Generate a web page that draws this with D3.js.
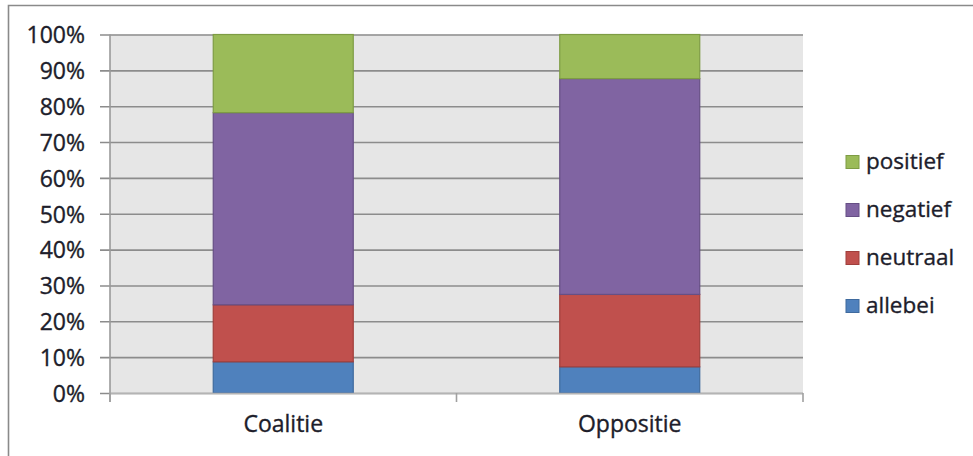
<!DOCTYPE html>
<html>
<head>
<meta charset="utf-8">
<script src="https://cdn.jsdelivr.net/npm/d3@7"></script>
<style>
  html, body { margin: 0; padding: 0; background: #fff; }
  svg { display: block; }
  text { font-family: "Open Sans", "DejaVu Sans", sans-serif; fill: #1d1d2b; stroke: #1d1d2b; stroke-width: 0.35px; }
</style>
</head>
<body>
<svg id="chart" width="973" height="456"></svg>
<script>
// Share of statements per kind, by group (fractions of 1)
const categories = ["Coalitie", "Oppositie"];
const seriesNames = ["allebei", "neutraal", "negatief", "positief"];
const allebei  = [0.087, 0.073];
const neutraal = [0.159, 0.202];
const negatief = [0.536, 0.602];
const positief = [0.218, 0.123];
const yTicks = [0, 0.1, 0.2, 0.3, 0.4, 0.5, 0.6, 0.7, 0.8, 0.9, 1.0];

const colors = {
  allebei:  { fill: "#4f81bd", stroke: "#3f6a9e" },
  neutraal: { fill: "#c0504d", stroke: "#a03f3c" },
  negatief: { fill: "#8064a2", stroke: "#664f85" },
  positief: { fill: "#9bbb59", stroke: "#7e9c44" }
};

const valuesBySeries = { allebei, neutraal, negatief, positief };
const rows = categories.map((c, i) => {
  const r = { category: c };
  seriesNames.forEach(s => r[s] = valuesBySeries[s][i]);
  return r;
});

const fontSize = "23px";
const svg = d3.select("#chart");

// Outer chart frame
svg.append("path")
  .attr("d", "M8.5,456 L8.5,5.5 L973,5.5")
  .attr("fill", "none")
  .attr("stroke", "#8a8a8a")
  .attr("stroke-width", 1.6);

const plot = { left: 110, right: 803, top: 34.5, bottom: 393 };

const x = d3.scaleBand()
  .domain(categories)
  .range([plot.left, plot.right])
  .paddingInner(0.596)
  .paddingOuter(0.298);

const y = d3.scaleLinear()
  .domain([0, 1])
  .range([plot.bottom, plot.top]);

// Plot background
svg.append("rect")
  .attr("x", plot.left)
  .attr("y", plot.top)
  .attr("width", plot.right - plot.left)
  .attr("height", plot.bottom - plot.top)
  .attr("fill", "#e6e6e6");

// Horizontal gridlines with outward ticks on the left
const yAxis = d3.axisLeft(y)
  .tickValues(yTicks)
  .tickFormat(d3.format(".0%"))
  .tickSize(-(plot.right - plot.left));

const gy = svg.append("g")
  .attr("transform", `translate(${plot.left},0)`)
  .call(yAxis);
gy.select(".domain").remove();
gy.selectAll(".tick line")
  .attr("x1", -10)
  .attr("stroke", "#8c8c8c")
  .attr("stroke-width", 1.6);
gy.selectAll(".tick text")
  .attr("x", -25)
  .attr("dy", "0.36em")
  .style("font-size", fontSize)
  .style("font-family", "'Open Sans', sans-serif")
  .attr("fill", "#1d1d2b");

// Vertical axis line
svg.append("line")
  .attr("x1", plot.left).attr("x2", plot.left)
  .attr("y1", plot.top).attr("y2", plot.bottom + 9)
  .attr("stroke", "#9a9a9a")
  .attr("stroke-width", 1.6);

// Stacked bars
const stack = d3.stack().keys(seriesNames);
const layers = stack(rows);

svg.append("g")
  .selectAll("g")
  .data(layers)
  .join("g")
  .attr("fill", d => colors[d.key].fill)
  .attr("stroke", d => colors[d.key].stroke)
  .attr("stroke-width", 1.2)
  .selectAll("rect")
  .data(d => d)
  .join("rect")
  .attr("x", d => x(d.data.category))
  .attr("width", x.bandwidth())
  .attr("y", d => y(d[1]))
  .attr("height", d => y(d[0]) - y(d[1]));

// Category axis
const xAxis = d3.axisBottom(x).tickSize(0).tickPadding(23);
const gx = svg.append("g")
  .attr("transform", `translate(0,${plot.bottom})`)
  .call(xAxis);
gx.select(".domain")
  .attr("stroke", "#b4b4b4")
  .attr("stroke-width", 1.6)
  .attr("d", `M${plot.left},0.5H${plot.right}`);
gx.selectAll(".tick text")
  .style("font-size", fontSize)
  .style("font-family", "'Open Sans', sans-serif")
  .attr("fill", "#1d1d2b");

// Category separators on the bottom axis
const separators = [plot.left, (plot.left + plot.right) / 2, plot.right];
svg.append("g")
  .selectAll("line")
  .data(separators)
  .join("line")
  .attr("x1", d => d).attr("x2", d => d)
  .attr("y1", plot.bottom).attr("y2", plot.bottom + 9)
  .attr("stroke", "#a0a0a0")
  .attr("stroke-width", 1.6);

// Legend, top entry is the top segment of the stack
const legendOrder = seriesNames.slice().reverse();
const legend = svg.append("g")
  .selectAll("g")
  .data(legendOrder)
  .join("g")
  .attr("transform", (d, i) => `translate(846,${162 + i * 48})`);
legend.append("rect")
  .attr("x", 0).attr("y", -6.5)
  .attr("width", 13).attr("height", 13)
  .attr("fill", d => colors[d].fill)
  .attr("stroke", d => colors[d].stroke)
  .attr("stroke-width", 1);
legend.append("text")
  .attr("x", 20)
  .attr("dy", "0.33em")
  .style("font-size", "22.5px")
  .text(d => d);
</script>
</body>
</html>
